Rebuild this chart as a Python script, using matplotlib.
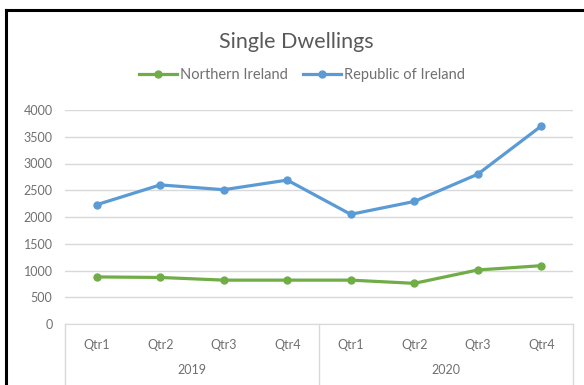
import matplotlib
matplotlib.use("Agg")
import matplotlib.pyplot as plt
from matplotlib.lines import Line2D
import matplotlib.transforms as mtransforms

quarters = ["Qtr1", "Qtr2", "Qtr3", "Qtr4", "Qtr1", "Qtr2", "Qtr3", "Qtr4"]
years = ["2019", "2020"]
northern_ireland = [880, 870, 820, 820, 820, 760, 1010, 1090]
republic_ireland = [2230, 2600, 2510, 2690, 2050, 2290, 2800, 3700]
y_ticks = [0, 500, 1000, 1500, 2000, 2500, 3000, 3500, 4000]

plt.rcParams['font.family'] = ['Lato', 'DejaVu Sans']

W, H = 584, 385
fig = plt.figure(figsize=(W / 100, H / 100), dpi=100)
fig.patch.set_facecolor("white")

# outer frame (black border, left and top visible)
fig.add_artist(Line2D([6 / W, 6 / W], [0, 1 - 10 / H], transform=fig.transFigure, color="black", lw=2.2))
fig.add_artist(Line2D([6 / W, 1], [1 - 10 / H, 1 - 10 / H], transform=fig.transFigure, color="black", lw=2.2))

left, right, top, bottom = 65, 573, 110, 324
ax = fig.add_axes([left / W, 1 - bottom / H, (right - left) / W, (bottom - top) / H])
ax.set_facecolor("white")

tick_color = "#707070"
x = list(range(len(quarters)))
green = "#70AD47"
blue = "#5B9BD5"
ax.plot(x, northern_ireland, color=green, lw=2.3, marker="o", ms=5, label="Northern Ireland", zorder=3)
ax.plot(x, republic_ireland, color=blue, lw=2.3, marker="o", ms=5, label="Republic of Ireland", zorder=3)

ax.set_xlim(-0.5, len(quarters) - 0.5)
ax.set_ylim(0, 4000)
ax.set_yticks(y_ticks)
ax.set_yticklabels([str(v) for v in y_ticks])
ax.grid(axis="y", color="#D9D9D9", lw=1)
ax.set_axisbelow(True)
for s in ["top", "right", "left"]:
    ax.spines[s].set_visible(False)
ax.spines["bottom"].set_color("#D9D9D9")
ax.tick_params(axis="y", length=0, labelsize=9, labelcolor=tick_color, pad=9)
ax.tick_params(axis="x", length=0, labelsize=9, labelcolor=tick_color, pad=11)
ax.set_xticks(x)
ax.set_xticklabels(quarters)

trans = mtransforms.blended_transform_factory(ax.transData, ax.transAxes)
axis_h = (bottom - top)
depth = (H - bottom) / axis_h
for xv in [-0.5, 3.5, 7.5]:
    ax.plot([xv, xv], [0, -depth], transform=trans, color="#D9D9D9", lw=1, clip_on=False)
for i, yr in enumerate(years):
    ax.text(1.5 + 4 * i, -(370 - bottom) / axis_h, yr, transform=trans, ha="center", va="center",
            fontsize=9, color=tick_color)

fig.text(0.5 * (218 + 375) / W, 1 - 42 / H, "Single Dwellings", ha="center", va="center",
         fontsize=15.5, color="#595959")

leg = fig.legend(loc="center", bbox_to_anchor=(302 / W, 1 - 75 / H), ncol=2, frameon=False,
                 fontsize=10.5, handlelength=2.6, columnspacing=1.1, handletextpad=0.2)
for t in leg.get_texts():
    t.set_color(tick_color)

fig.savefig("out.png", dpi=100, facecolor="white")
